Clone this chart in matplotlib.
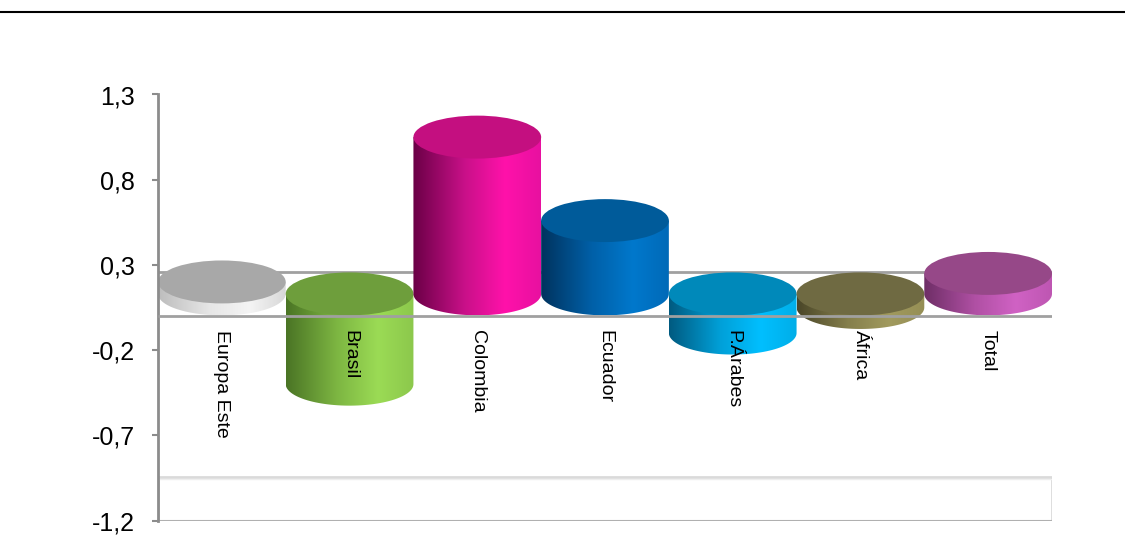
import numpy as np
import matplotlib
matplotlib.use("Agg")
import matplotlib.pyplot as plt
from matplotlib.patches import Ellipse, PathPatch, Rectangle
from matplotlib.path import Path
from matplotlib.colors import LinearSegmentedColormap
from matplotlib.lines import Line2D

plt.rcParams['font.family'] = ['Liberation Sans', 'DejaVu Sans']

#===========
# DATA
#===========
categories = ["Europa Este", "Brasil", "Colombia", "Ecuador", "P.Árabes", "África", "Total"]
values = [0.07, -0.53, 0.92, 0.43, -0.23, -0.08, 0.12]
yticks = [1.3, 0.8, 0.3, -0.2, -0.7, -1.2]
ytick_labels = ["1,3", "0,8", "0,3", "-0,2", "-0,7", "-1,2"]

# cap colour, side gradient (left -> highlight -> right)
top_colors = ["#A8A8A8", "#6E9E3C", "#C40F80", "#005B9A", "#0089BA", "#6F6A42", "#964888"]
side_colors = [
    ["#BDBDBD", "#E6E6E6", "#F4F4F4", "#D8D8D8"],
    ["#4A7425", "#7DB642", "#9BDB55", "#8CC84C"],
    ["#6A0046", "#C81088", "#FF12AA", "#E810A0"],
    ["#00335E", "#0060A8", "#0078CC", "#006AB8"],
    ["#005A80", "#00A0D8", "#00BFFF", "#00AEE8"],
    ["#4A4628", "#857F4C", "#A19A5E", "#958E55"],
    ["#6E2E66", "#B050A4", "#D062C4", "#BE56B2"],
]

#===========
# GEOMETRY (3D look)
#===========
depth = 0.258       # floor depth in value units
ell_h = 0.252       # ellipse height in value units
y0 = 0.13           # centre of cylinder base at value 0
wid = 1.0

fig = plt.figure(figsize=(11.25, 5.56), dpi=100)
ax = fig.add_axes([158/1125, 1-520.5/556, (1052-158)/1125, (520.5-94.5)/556])
ax.set_xlim(0, 7)
ax.set_ylim(-1.2, 1.3)

# back line of the zero plane (behind cylinders)
ax.plot([0, 7], [depth, depth], color="#A0A0A0", lw=2, zorder=1, solid_capstyle="butt")

# floor at bottom
ax.add_patch(Rectangle((0, -1.2), 7, depth, facecolor="white", edgecolor="#DADADA", lw=2, zorder=1))
ax.plot([0, 7], [-1.2 + depth - 0.012, -1.2 + depth - 0.012], color="#EEEEEE", lw=1, zorder=1.1)
ax.plot([0, 7], [-1.2, -1.2], color="#B0B0B0", lw=1.5, zorder=1.1)

t = np.linspace(np.pi, 2*np.pi, 60)
for i, (v, tc, sc) in enumerate(zip(values, top_colors, side_colors)):
    xc = i + 0.5
    x0, x1 = xc - wid/2, xc + wid/2
    yt = y0 + max(v, 0)
    yb = y0 + min(v, 0)
    verts = [(x0, yt), (x0, yb)]
    verts += list(zip(xc + wid/2*np.cos(t), yb + ell_h/2*np.sin(t)))
    verts += [(x1, yt), (x0, yt)]
    body = PathPatch(Path(verts), facecolor="none", edgecolor="none", zorder=2+i)
    ax.add_patch(body)
    cmap = LinearSegmentedColormap.from_list("c%d" % i, list(zip([0, 0.4, 0.72, 1.0], sc)))
    im = ax.imshow(np.linspace(0, 1, 256)[None, :], cmap=cmap, aspect="auto",
                   extent=[x0, x1, yb - ell_h/2, yt], zorder=2+i, interpolation="bilinear")
    im.set_clip_path(body)
    ax.add_patch(Ellipse((xc, yt), wid, ell_h, facecolor=tc, edgecolor="none", zorder=2.5+i))

# front line of the zero plane (over cylinders)
ax.plot([0, 7], [0, 0], color="#A0A0A0", lw=2, zorder=20, solid_capstyle="butt")

# category labels
for i, c in enumerate(categories):
    ax.text(i + 0.5, -0.08, c, rotation=270, ha="center", va="top", fontsize=14, zorder=30)

ax.set_xlim(0, 7)
ax.set_ylim(-1.2, 1.3)
ax.set_yticks(yticks)
ax.set_yticklabels(ytick_labels, fontsize=18)
ax.set_xticks([])
for s in ["top", "right", "bottom"]:
    ax.spines[s].set_visible(False)
ax.spines["left"].set_color("#8C8C8C")
ax.spines["left"].set_linewidth(2)
ax.tick_params(axis="y", length=4.5, width=1.5, color="#8C8C8C", pad=12)

fig.add_artist(Line2D([0, 1], [1-12/556, 1-12/556], color="black", lw=1.5))

plt.savefig("out.png", dpi=100)
